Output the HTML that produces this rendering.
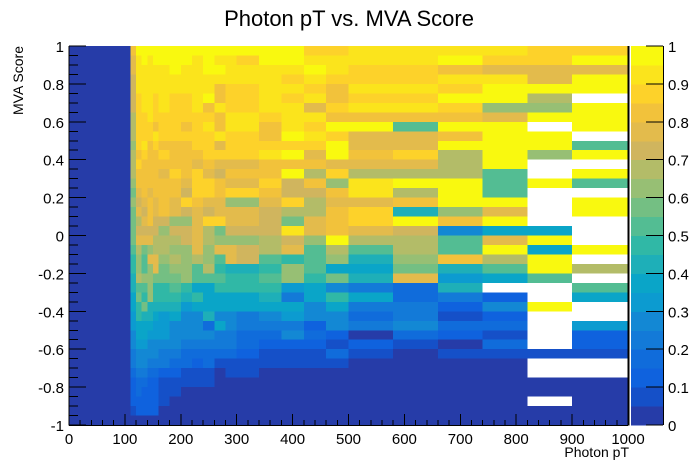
<!DOCTYPE html>
<html><head><meta charset="utf-8"><style>
html,body{margin:0;padding:0;background:#fff;}
svg{display:block;font-family:"Liberation Sans",Arial,sans-serif;}
</style></head><body>
<svg id="c" width="698" height="474">
<text x="349" y="26" text-anchor="middle" font-size="22">Photon pT vs. MVA Score</text>
<text x="629" y="457" text-anchor="end" font-size="14">Photon pT</text>
<text transform="translate(23,46) rotate(-90)" text-anchor="end" font-size="14">MVA Score</text>
</svg>
<script>
const xEdges=[110,120,130,140,150,160,180,200,220,240,260,280,300,340,380,420,460,500,580,660,740,820,900,1000];
const colLevels=[
"gffeeeedddcdddcbcbbbba998877665544322210",
"jiiiihhhhhhghggfefdefdccdab9977655433220",
"jjiiiiihhhihggggfefefbaaca9b877655432220",
"jiiiiiiihhgggggfgggefcfcccc8876554322220",
"jjiiihhhgihgggggffeeddffb998766554322220",
"jjiiiiihhhghgfggggecddcbb998666544211100",
"jjjiihhhhhggghggffcedcdcba98755543211000",
"jjiiihhhghggggfeheceecccc986555433110000",
"jiiiiiihhhhgfhhhgfffffdaa797555432110000",
"jjjiijghihhhgfhhfehddccda777835433110000",
"jijiggiggifhfeggffhbcfa9a977574431000000",
"jiiihhhiihhhfgfhcffecff89977554431100000",
"jhiihhhiihhhfgfhcffecee89977443321100000",
"jjiiiiihgghigghgfeeedda9a987543211000000",
"jjihihiiijhjgjeehdbief9cc647645211000000",
"hijihifihihfgdgeddffcaaa9775523211000000",
"hiihgghgjhjjfhcgfgggjdc7b597552131000000",
"iihhihigjffgfdiifhhfda878474340210000000",
"iihhihigaffhfdjdg8jeddcbf334453100000000",
"ijgihjhgjgjdddjjjcg5aag86842132010000000",
"ihfijjcfjjjjjaaajfj7fjda7.25231310000000",
"hhffjdcj.jjc..j....7j7jja..j....1..00.00",
"hjfjj.jjj.aj.ja.jj...j.d.a7..6221..00000"];
const xTicks=[0,100,200,300,400,500,600,700,800,900,1000];
const yTicks=[-1,-0.8,-0.6,-0.4,-0.2,0,0.2,0.4,0.6,0.8,1];
const zTicks=[0,0.1,0.2,0.3,0.4,0.5,0.6,0.7,0.8,0.9,1];
const palette=["#263ca8","#1550c8","#0f62de","#106cdb","#137ad8","#1388d4","#0c9bd0","#0aa5c8","#1eafb8","#30b8a6","#53bd93","#74bf83","#97bf74","#b3bc68","#d0b55e","#e3bb4c","#f2c23b","#fdd22a","#fbe41c","#f9f90f"];
const NY=40,L=69,R=628,T=46,B=425;
const sx=v=>L+(v-0)/(1000-0)*(R-L);
const sy=v=>T+(1-v)/2*(B-T);
const sz=v=>B-v*(B-T);
const NS="http://www.w3.org/2000/svg";
const svg=document.getElementById('c');
function mk(t,a,p){const e=document.createElementNS(NS,t);for(const k in a)e.setAttribute(k,a[k]);(p||svg).appendChild(e);return e;}
const bg=mk('rect',{x:L,y:T,width:R-L,height:B-T,fill:palette[0]});


const g=mk('g',{'shape-rendering':'crispEdges'});


const codes="0123456789abcdefghij";
colLevels.forEach((s,i)=>{
  const x0=sx(xEdges[i]),x1=sx(xEdges[i+1]);
  for(let r=0;r<NY;r++){
    const ch=s[r];const hi=1-r*2/NY,lo=1-(r+1)*2/NY;
    const y0=sy(hi),y1=sy(lo);
    const fill=ch==='.'?'#ffffff':palette[codes.indexOf(ch)];
    const c=mk('rect',{x:x0,y:y0,width:x1-x0+0.5,height:y1-y0+0.5,fill:fill},g);
    
    
  }
});
// axes frame
const ax=mk('g',{stroke:'#000','stroke-width':1,'shape-rendering':'crispEdges'});


mk('line',{x1:L,y1:T,x2:L,y2:B+0.5},ax);
mk('line',{x1:L,y1:B+0.5,x2:R,y2:B+0.5},ax);
mk('line',{x1:R+0.5,y1:T,x2:R+0.5,y2:B+0.5,'stroke-width':2},ax);
for(let v=0;v<=1000;v+=20){const major=v%100===0;mk('line',{x1:sx(v),y1:B,x2:sx(v),y2:B-(major?11:5)},ax);}
for(let k=0;k<=40;k++){const v=-1+k*0.05;const major=k%4===0;mk('line',{x1:L,y1:sy(v),x2:L+(major?17:9),y2:sy(v)},ax);}
xTicks.forEach(v=>{const t=mk('text',{x:sx(v),y:444,'text-anchor':'middle','font-size':15});t.textContent=String(v);

});
yTicks.forEach(v=>{const t=mk('text',{x:L-5,y:sy(v)+6,'text-anchor':'end','font-size':15});t.textContent=String(Math.round(v*10)/10);

});
// color bar
const cb=mk('g',{'shape-rendering':'crispEdges'});


palette.forEach((c,i)=>{mk('rect',{x:631,y:sz((i+1)/20),width:32,height:sz(i/20)-sz((i+1)/20)+0.5,fill:c},cb);});
zTicks.forEach(v=>{mk('line',{x1:646,y1:sz(v),x2:663,y2:sz(v),stroke:'#000'},cb);
const t=mk('text',{x:668,y:sz(v)+6,'font-size':15});t.textContent=String(v);

});
mk('line',{x1:663.5,y1:T,x2:663.5,y2:B,stroke:'#000'},cb);
</script>
</body></html>
